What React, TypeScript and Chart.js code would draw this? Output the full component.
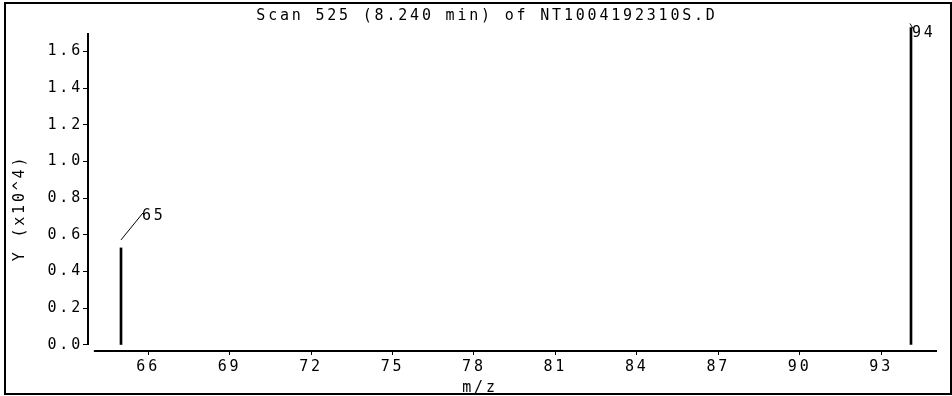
import React, { useEffect, useRef } from "react";
import { Chart, registerables } from "chart.js";

Chart.register(...registerables);

// ---- data ----
const peakMz = [65.0, 94.1];
const peakIntensity = [0.529, 1.73]; // in units of 10^4
const peakLabels = ["65", "94"];
const xTicks = [66, 69, 72, 75, 78, 81, 84, 87, 90, 93];
const yTicks = [0, 0.2, 0.4, 0.6, 0.8, 1.0, 1.2, 1.4, 1.6];
const chartTitle = "Scan 525 (8.240 min) of NT1004192310S.D";
const xTitle = "m/z";
const yTitle = "Y (x10^4)";

const FONT_FAMILY = "'DejaVu Sans Mono', monospace";
const FONT_SIZE = 15;
const SPACING = "2.8px";
const FONT = `${FONT_SIZE}px ${FONT_FAMILY}`;

const overlayPlugin = {
  id: "overlay",
  beforeUpdate(chart: any) {
    chart.ctx.letterSpacing = SPACING;
  },
  beforeDraw(chart: any) {
    chart.ctx.letterSpacing = SPACING;
  },
  afterDraw(chart: any) {
    const ctx = chart.ctx as CanvasRenderingContext2D;
    const xs = chart.scales.x;
    const ys = chart.scales.y;
    const area = chart.chartArea;
    ctx.save();
    (ctx as any).letterSpacing = SPACING;
    ctx.strokeStyle = "#000";
    ctx.fillStyle = "#000";

    // frame
    ctx.lineWidth = 2;
    ctx.strokeRect(5, 3, 946, 391);

    // y axis line
    ctx.beginPath();
    ctx.moveTo(area.left, area.top);
    ctx.lineTo(area.left, ys.getPixelForValue(0));
    ctx.stroke();

    // x axis line
    ctx.beginPath();
    ctx.moveTo(xs.getPixelForValue(64), area.bottom);
    ctx.lineTo(area.right, area.bottom);
    ctx.stroke();

    ctx.font = FONT;
    ctx.textBaseline = "middle";

    // peak labels
    ctx.lineWidth = 1;
    peakMz.forEach((mz, i) => {
      const px = xs.getPixelForValue(mz);
      const py = ys.getPixelForValue(peakIntensity[i]);
      ctx.textAlign = "left";
      if (i === 0) {
        ctx.beginPath();
        ctx.moveTo(px, py - 8);
        ctx.lineTo(px + 22, py - 35);
        ctx.stroke();
        ctx.fillText(peakLabels[i], px + 21, py - 32);
      } else {
        ctx.beginPath();
        ctx.moveTo(px - 1, py - 4);
        ctx.lineTo(px + 2, py + 1);
        ctx.stroke();
        ctx.fillText(peakLabels[i], px + 1, py + 6);
      }
    });

    // titles
    ctx.textAlign = "center";
    ctx.fillText(chartTitle, 487, 16.5);
    ctx.fillText(xTitle, 480, 388.5);
    ctx.save();
    ctx.translate(20, 210);
    ctx.rotate(-Math.PI / 2);
    ctx.fillText(yTitle, 2, 0);
    ctx.restore();

    ctx.restore();
  },
};

export default function App() {
  const ref = useRef<HTMLCanvasElement | null>(null);

  useEffect(() => {
    if (!ref.current) return;
    const tickFont = { family: FONT_FAMILY, size: FONT_SIZE };
    const chart = new Chart(ref.current, {
      type: "bar",
      data: {
        datasets: [
          {
            data: peakMz.map((x, i) => ({ x, y: peakIntensity[i] })),
            backgroundColor: "#000",
            borderWidth: 0,
            barThickness: 2,
            clip: false,
          } as any,
        ],
      },
      options: {
        responsive: false,
        animation: false,
        devicePixelRatio: 1,
        layout: { padding: { left: 0, top: 33, right: 15, bottom: 0 } },
        plugins: {
          legend: { display: false },
          tooltip: { enabled: false },
          title: { display: false },
        },
        scales: {
          x: {
            type: "linear",
            min: 63.7845,
            max: 95.058,
            offset: false,
            afterBuildTicks: (s: any) => {
              s.ticks = xTicks.map((v) => ({ value: v }));
            },
            afterFit: (s: any) => {
              s.height = 45;
            },
            grid: {
              display: true,
              drawOnChartArea: false,
              drawTicks: true,
              tickLength: 4,
              color: "#000",
              lineWidth: 1,
              offset: false,
            },
            border: { display: false },
            ticks: {
              color: "#000",
              font: tickFont,
              padding: 3,
              maxRotation: 0,
              autoSkip: false,
              callback: (v: any) => String(v),
            },
          },
          y: {
            type: "linear",
            min: -0.0327,
            max: 1.7,
            afterBuildTicks: (s: any) => {
              s.ticks = yTicks.map((v) => ({ value: v }));
            },
            afterFit: (s: any) => {
              s.width = 88;
            },
            grid: {
              display: true,
              drawOnChartArea: false,
              drawTicks: true,
              tickLength: 5,
              color: "#000",
              lineWidth: 1,
            },
            border: { display: false },
            ticks: {
              color: "#000",
              font: tickFont,
              padding: 0,
              autoSkip: false,
              callback: (v: any) => Number(v).toFixed(1),
            },
          },
        },
      } as any,
      plugins: [overlayPlugin],
    });
    return () => chart.destroy();
  }, []);

  return (
    <div style={{ position: "absolute", left: 0, top: 0, width: 952, height: 396, background: "#fff" }}>
      <canvas ref={ref} width={952} height={396} style={{ display: "block" }} />
    </div>
  );
}
